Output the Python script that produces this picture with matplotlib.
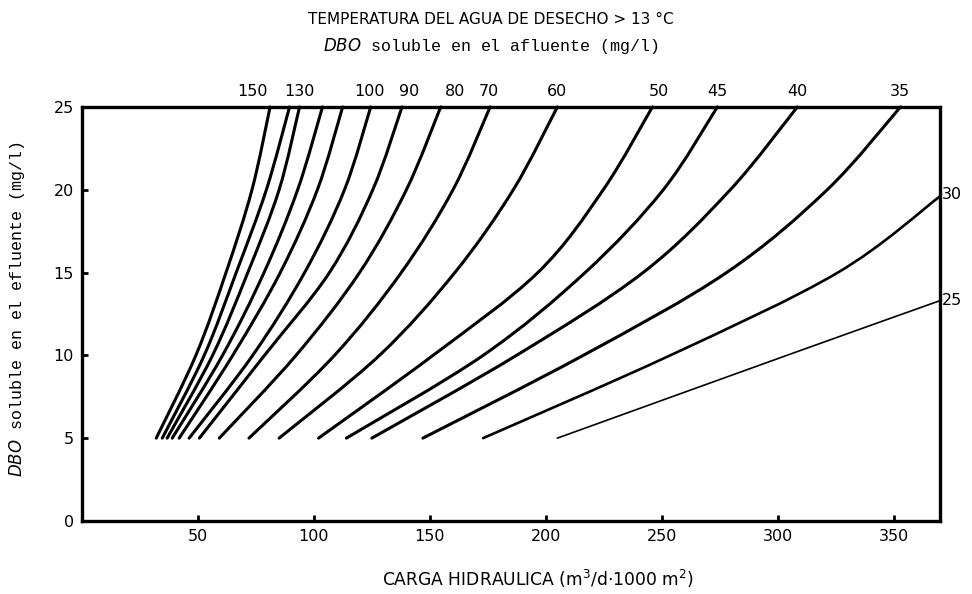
import numpy as np
import matplotlib.pyplot as plt
from matplotlib.path import Path
from matplotlib.patches import PathPatch

# DBO soluble en el afluente (mg/l) -> one curve each
influent = [150, 140, 130, 120, 110, 100, 90, 80, 70, 60, 50, 45, 40, 35, 30, 25]

# effluent DBO levels (mg/l) where the curves were read
y_levels = [5, 10, 15, 20, 25]

# carga hidraulica read at each effluent level
x_150 = [32, 49.1, 62.1, 73.3, 81.1]
x_140 = [34.6, 52.7, 66.5, 79.5, 89.5]
x_130 = [36.7, 56.3, 71.5, 85, 93.8]
x_120 = [38.9, 60.6, 78.5, 93, 103.7]
x_110 = [41.9, 65, 85.5, 101.5, 112.4]
x_100 = [46.2, 73.6, 96, 113.2, 124.5]
x_90 = [50.6, 78.7, 106.7, 125.4, 138]
x_80 = [59.2, 92.3, 119.7, 139.9, 154.7]
x_70 = [72, 108.9, 137.7, 160, 176]
x_60 = [85, 128.3, 160.8, 186, 205]
x_50 = [102, 151.4, 196.6, 224.8, 246]
x_45 = [114, 173, 217, 250.7, 274]
x_40 = [125, 187.4, 242, 279.6, 308.5]
x_35 = [147, 216.2, 278, 321.4, 353]
# these two run out through the right edge
x_30 = [173, 253.7, 326, 370]
y_30 = [5, 10, 15, 19.6]
x_25 = [205, 304, 370]
y_25 = [5, 10, 13.3]

curves_x = [x_150, x_140, x_130, x_120, x_110, x_100, x_90, x_80, x_70,
            x_60, x_50, x_45, x_40, x_35, x_30, x_25]
curves_y = [y_levels] * 14 + [y_30, y_25]

# labels printed along the top edge (text, x position of the text)
top_labels = ['150', '130', '100', '90', '80', '70', '60', '50', '45', '40', '35']
top_label_x = [73.5, 93.8, 124, 141, 161, 175.5, 205, 249, 274, 308.5, 352.6]
right_labels = ['30', '25']
right_label_y = [19.7, 13.3]


def smooth_path(xs, ys):
    # bezier through the read points (catmull-rom tangents), just for drawing
    pts = np.column_stack([xs, ys]).astype(float)
    verts = [pts[0]]
    codes = [Path.MOVETO]
    n = len(pts)
    for i in range(n - 1):
        p0 = pts[max(i - 1, 0)]
        p1 = pts[i]
        p2 = pts[i + 1]
        p3 = pts[min(i + 2, n - 1)]
        c1 = p1 + (p2 - p0) / 6.0
        c2 = p2 - (p3 - p1) / 6.0
        verts += [c1, c2, p2]
        codes += [Path.CURVE4] * 3
    return Path(verts, codes)


fig = plt.figure(figsize=(9.72, 5.94), dpi=100)
ax = fig.add_axes([0.0844, 0.123, 0.8826, 0.697])

for i, (xs, ys) in enumerate(zip(curves_x, curves_y)):
    lw = 2.2
    if influent[i] == 25:
        lw = 1.2
    elif influent[i] == 30:
        lw = 1.9
    patch = PathPatch(smooth_path(xs, ys), facecolor='none', edgecolor='black',
                      lw=lw, capstyle='round', joinstyle='round', clip_on=False)
    ax.add_patch(patch)

ax.set_xlim(0, 370)
ax.set_ylim(0, 25)
ax.set_xticks([50, 100, 150, 200, 250, 300, 350])
ax.set_yticks([0, 5, 10, 15, 20, 25])
ax.tick_params(direction='in', length=4, width=2, labelsize=11.5, pad=6)
for sp in ax.spines.values():
    sp.set_linewidth(2.4)

for lab, lx in zip(top_labels, top_label_x):
    ax.text(lx, 25.5, lab, ha='center', va='bottom', fontsize=11.5)
for lab, ly in zip(right_labels, right_label_y):
    ax.text(371, ly, lab, ha='left', va='center', fontsize=11.5)

fig.text(0.505, 0.968, 'TEMPERATURA DEL AGUA DE DESECHO > 13 °C', ha='center',
         va='center', fontsize=11, family=['Liberation Sans Narrow', 'DejaVu Sans'])
fig.text(0.505, 0.923, '$\\mathit{DBO}$ soluble en el afluente (mg/l)', ha='center',
         va='center', fontsize=12, family=['Liberation Mono', 'DejaVu Sans'])
fig.text(0.554, 0.025, 'CARGA HIDRAULICA (m$^3$/d$\\cdot$1000 m$^2$)', ha='center',
         va='center', fontsize=12.3, family=['Liberation Sans Narrow', 'DejaVu Sans'])
fig.text(0.018, 0.48, '$\\mathit{DBO}$ soluble en el efluente (mg/l)', ha='center',
         va='center', rotation=90, fontsize=12, family=['Liberation Mono', 'DejaVu Sans'])

fig.savefig('out.png', dpi=100)
